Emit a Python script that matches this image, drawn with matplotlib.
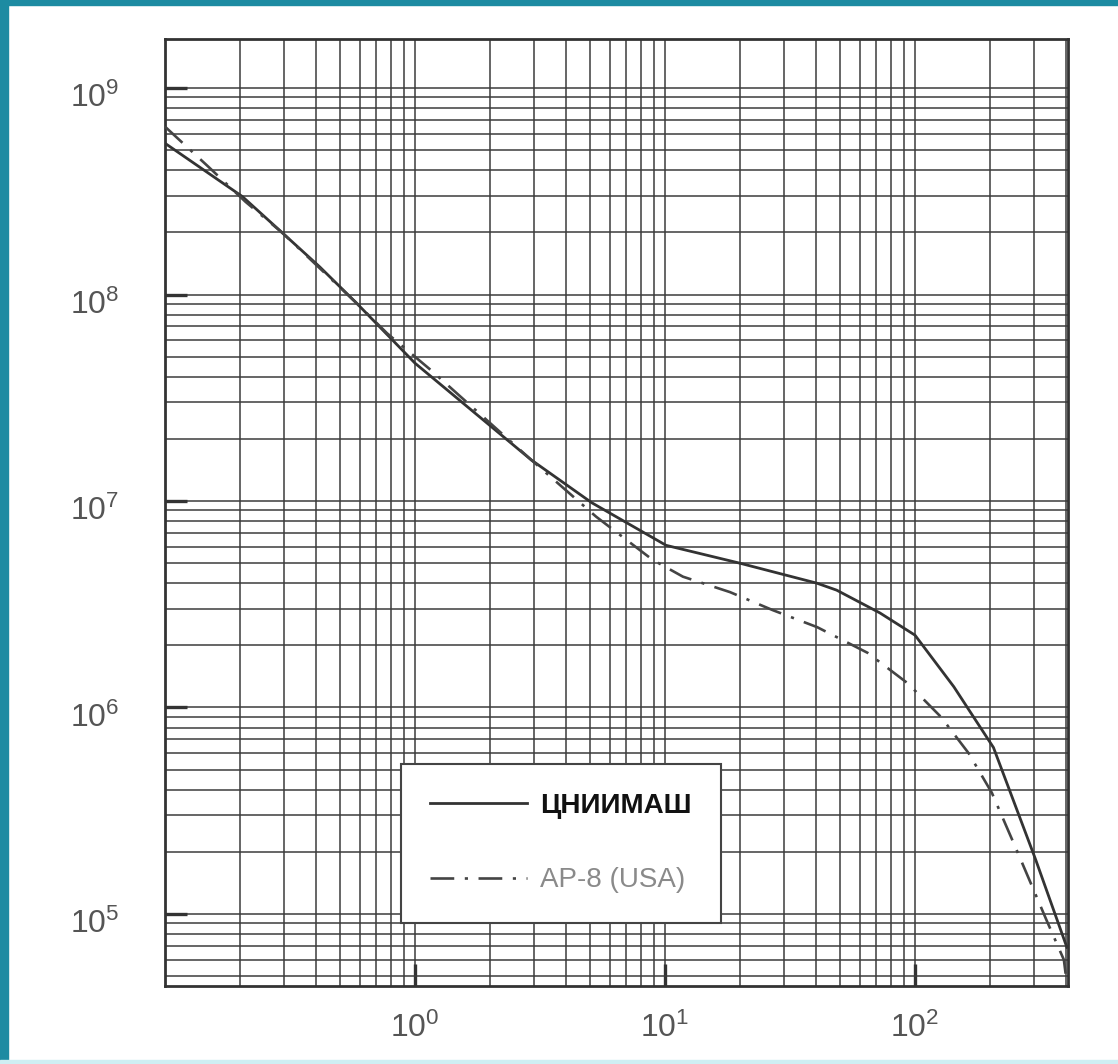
import math
import matplotlib
matplotlib.use('Agg')
import matplotlib.pyplot as plt
from matplotlib.ticker import LogLocator, FixedLocator, FuncFormatter, NullFormatter
from matplotlib.patches import Rectangle
from matplotlib.transforms import ScaledTranslation

plt.rcParams['font.family'] = ['Liberation Sans', 'DejaVu Sans']
plt.rcParams['mathtext.fontset'] = 'custom'
plt.rcParams['mathtext.rm'] = 'Liberation Sans'

# кривая ЦНИИМАШ
x_cniimash = [0.1, 0.204, 0.296, 0.416, 0.585, 1.0, 2.92, 5.1, 10.1, 19.9, 40.5,
              48.6, 72.4, 100, 143, 206, 304, 405]
y_cniimash = [5.4e8, 2.98e8, 1.98e8, 1.36e8, 9.06e7, 4.65e7, 1.58e7, 9.8e6, 6.1e6,
              5.0e6, 4.0e6, 3.7e6, 2.87e6, 2.24e6, 1.26e6, 6.4e5, 1.83e5, 6.9e4]

# кривая AP-8 (USA)
x_ap8 = [0.1, 0.149, 0.21, 0.296, 0.585, 0.773, 1.156, 2.92, 5.3, 8.9, 11.8, 18.2,
         27.0, 40.6, 64.6, 93.5, 127, 164, 203, 252, 335, 394, 405]
y_ap8 = [6.5e8, 4.16e8, 2.81e8, 1.98e8, 9.06e7, 6.49e7, 4.31e7, 1.58e7, 8.4e6, 5.2e6,
         4.3e6, 3.62e6, 2.96e6, 2.45e6, 1.84e6, 1.31e6, 9.0e5, 6.0e5, 3.86e5, 2.11e5,
         9.4e4, 6.0e4, 4.6e4]

x_major = [1, 10, 100]
y_major = [1e5, 1e6, 1e7, 1e8, 1e9]

W, H = 1118, 1064
fig = plt.figure(figsize=(W / 100, H / 100), dpi=100)
fig.patch.set_facecolor('white')

# синяя рамка слайда
fig.patches.append(Rectangle((0, 0), 8 / W, 1, transform=fig.transFigure,
                             color='#1d8ba2', zorder=0))
fig.patches.append(Rectangle((0, 1 - 5 / H), 1, 5 / H, transform=fig.transFigure,
                             color='#1d8ba2', zorder=0))
fig.patches.append(Rectangle((0, 0), 1, 4 / H, transform=fig.transFigure,
                             color='#cfeef3', zorder=0))

left, right, top, bottom = 165, 1068, 39, 986
ax = fig.add_axes([left / W, 1 - bottom / H, (right - left) / W, (bottom - top) / H])
ax.set_xscale('log')
ax.set_yscale('log')
ax.set_xlim(0.1, 10 ** 2.612)
ax.set_ylim(10 ** 4.6513, 10 ** 9.2373)

ax.xaxis.set_major_locator(FixedLocator(x_major))
ax.yaxis.set_major_locator(FixedLocator(y_major))
ax.xaxis.set_minor_locator(LogLocator(base=10, subs=range(2, 10), numticks=50))
ax.yaxis.set_minor_locator(LogLocator(base=10, subs=range(2, 10), numticks=50))
ax.xaxis.set_minor_formatter(NullFormatter())
ax.yaxis.set_minor_formatter(NullFormatter())

fmt = FuncFormatter(lambda v, p: r'$\mathregular{10^{%d}}$' % round(math.log10(v)))
ax.xaxis.set_major_formatter(fmt)
ax.yaxis.set_major_formatter(fmt)

ax.grid(True, which='both', color='#3c3c3c', linewidth=1.1)
ax.set_axisbelow(True)

ax.tick_params(which='minor', length=0)
ax.tick_params(axis='y', which='major', direction='in', length=16, width=2.4,
               color='#333333', labelsize=23, labelcolor='#555555', pad=33, right=False)
ax.tick_params(axis='x', which='major', direction='in', length=16, width=2.4,
               color='#333333', labelsize=23, labelcolor='#555555', pad=19, top=False)

# подписи по оси Y в оригинале чуть ниже делений
for t in ax.yaxis.get_major_ticks():
    t.label1.set_transform(t.label1.get_transform() +
                           ScaledTranslation(0, -0.07, fig.dpi_scale_trans))

for s in ax.spines.values():
    s.set_color('#333333')
    s.set_linewidth(2.0)

ax.plot(x_cniimash, y_cniimash, color='#333333', linewidth=2.0, label='ЦНИИМАШ', zorder=3)
ax.plot(x_ap8, y_ap8, color='#444444', linewidth=1.9, linestyle=(0, (9, 4, 1.2, 4)),
        label='AP-8 (USA)', zorder=3)

leg = ax.legend(loc='lower left', bbox_to_anchor=(0.261, 0.067), fontsize=20,
                frameon=True, fancybox=False, handlelength=3.5, handletextpad=0.47,
                labelspacing=1.75, borderpad=1.05, borderaxespad=0)
leg.get_frame().set_edgecolor('#444444')
leg.get_frame().set_linewidth(1.5)
leg.get_frame().set_facecolor('white')
leg.get_frame().set_alpha(1)
texts = leg.get_texts()
texts[0].set_fontweight('bold')
texts[0].set_color('#111111')
texts[1].set_color('#8a8a8a')
leg.set_zorder(5)

plt.savefig('out.png', dpi=100)
plt.close()
